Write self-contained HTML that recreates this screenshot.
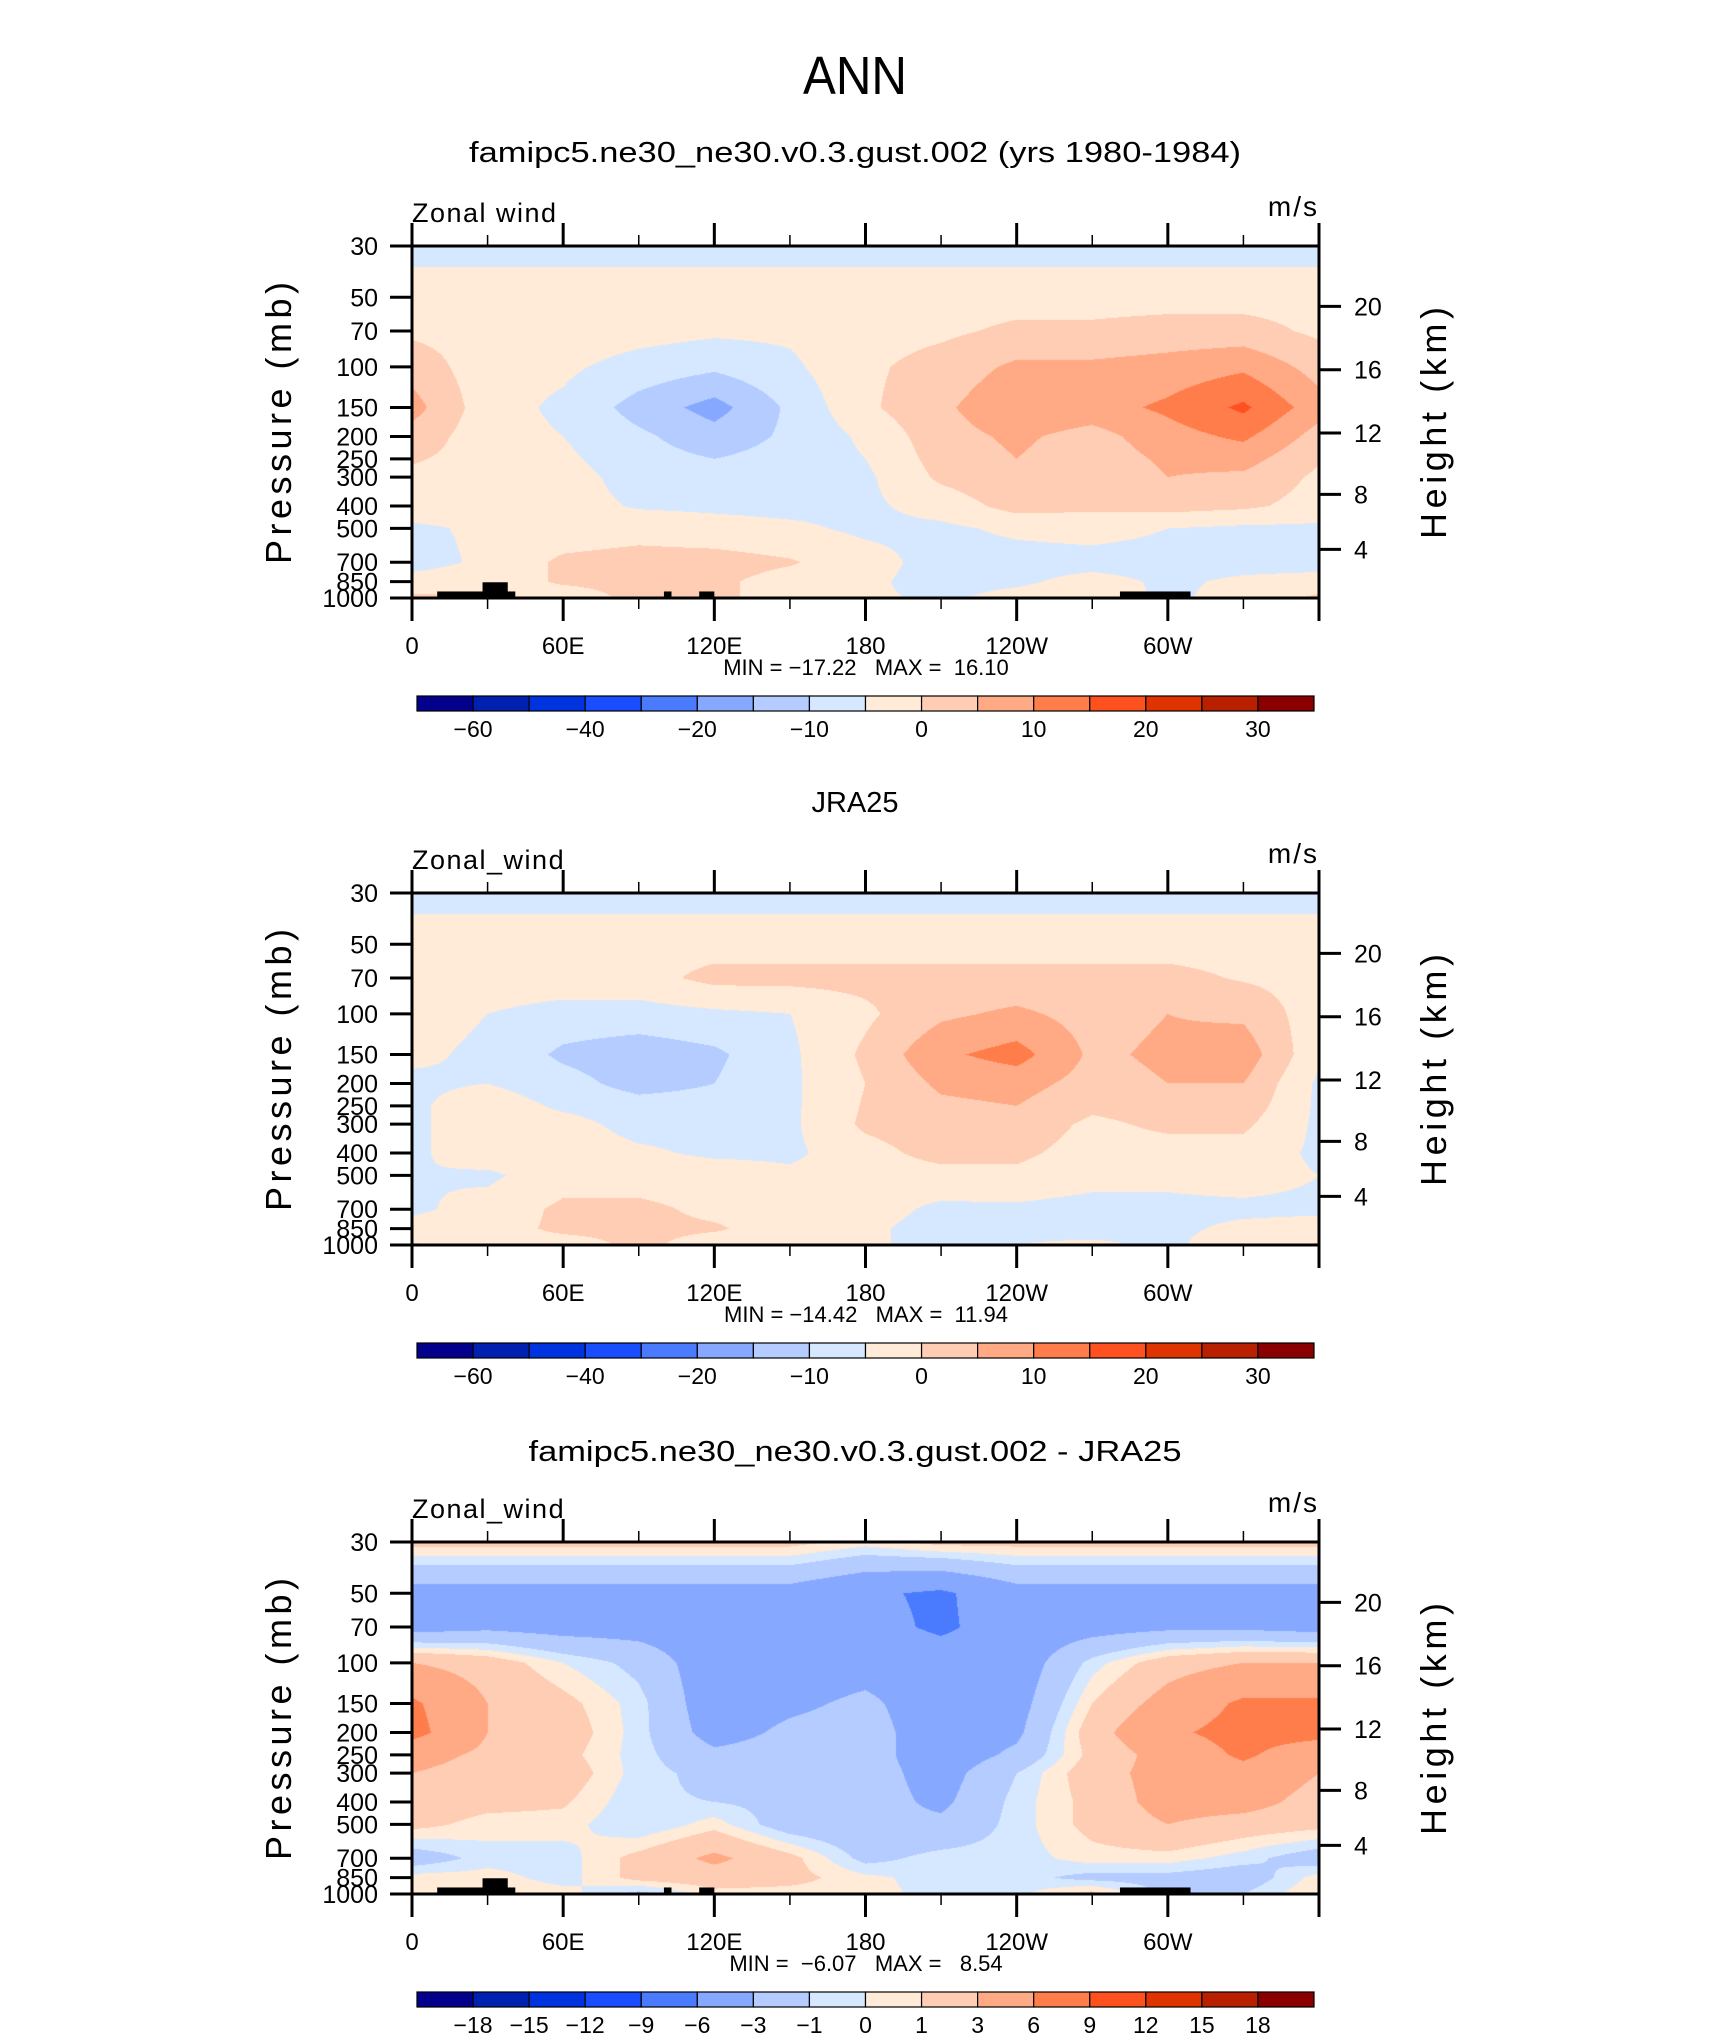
<!DOCTYPE html>
<html><head><meta charset="utf-8"><style>
html,body{margin:0;padding:0;background:#fff;}
#wrap{position:relative;width:1710px;height:2038px;overflow:hidden;background:#fff;}
canvas{position:absolute;}
svg{position:absolute;left:0;top:0;}
text{font-family:"Liberation Sans",sans-serif;fill:#000;}
</style></head><body>
<div id="wrap">
<canvas id="c0" width="907" height="352" style="left:412px;top:246px"></canvas>
<canvas id="c1" width="907" height="352" style="left:412px;top:893px"></canvas>
<canvas id="c2" width="907" height="352" style="left:412px;top:1542px"></canvas>
<svg id="svg" width="1710" height="2038">
<text x="855" y="94" font-size="54" font-weight="100" text-anchor="middle" textLength="104" lengthAdjust="spacingAndGlyphs">ANN</text>
</svg>
</div>
<script>
// ---- data ----
const lons = [0,30,60,90,120,150,180,210,240,270,300,330];
const levels = [30,50,70,100,150,200,250,300,400,500,700,850,1000];
const field1 = [
[-7,-7,-7,-7,-7,-7,-7,-7,-7,-7,-7,-7],
[-2,-2,-2,-2,-2,-2,-2,-2,-2,-2,-2,-2],
[-1,-2,-2,-3,-4,-4,-2,-1,1,1,2,2],
[3,-3,-4,-7,-9,-6,-1,2,6,6,7,9],
[7,-3,-6,-12,-17,-9,-1,4,9,8,11,16],
[3,-3,-5,-9,-13,-9,-4,3,6,3,8,11],
[0.5,-2,-4,-8,-10,-8,-5,2,5,2,6,7],
[-1,-2,-3,-7,-8,-7,-6,1,4,1,5,4],
[-2,-3,-3,-5.5,-6,-6.5,-6,-3,2,1,2,1],
[-6,-4,-3,-2,-3,-4,-6,-6,-4,-3,-5,-6],
[-7,-4,1,2,2,0.5,-3,-7,-7,-7,-7,-7],
[-3,-2,0.5,1,1,-2,-4,-7,-6,-3,-6,-4],
[1,0.5,-2,1,1,-2,-4,-6,-3,-2,-6,-3]];
const field2 = [
[-7,-7,-7,-7,-7,-7,-7,-7,-7,-7,-7,-7],
[-2,-2,-2,-2,-2,-2,-2,-2,-2,-2,-2,-2],
[-2,-2,-2,-2,1.5,1.5,1.5,1.5,1.5,1.5,1.5,-0.5],
[-3,-5,-7,-7,-6,-5,-1,4,6,3,5,4],
[-4,-6,-11,-13,-11,-6,1,9,12,4,6,8],
[-6,-5,-8,-12,-10,-6,0,6,7,3,5,5],
[-6,-2,-6,-8,-8,-6,0.5,4,5,1,2,3],
[-6,-2,-3,-7,-7,-6,1,3,3,-1,1,1],
[-6,-2,-2,-4,-6,-6,-2,2,1,-2,-2,-2],
[-5,-6,-2,-2,-2,-4,-3,-2,-1,-3,-4,-3],
[-6,-3,1,1,-1,-2,-3,-6,-6,-7,-6,-6],
[-3,-2,1,1,0.5,-2,-4,-7,-6,-7,-6,-4],
[0.5,-2,-2,1,-2,-3,-4,-7,-5,-4,-6,-2]];
const field3 = [
[1.5,1.5,1.5,1.5,1.5,1.5,0.5,1.5,1.5,1.5,1.5,1.5],
[-4,-4,-4,-4,-4,-4,-5.5,-6.5,-4,-4,-4,-4],
[-4,-3.5,-4,-4,-4.5,-4.5,-5,-6.5,-4.5,-4,-3.5,-3.5],
[3,2,0,-1.5,-4.5,-4.5,-4,-4.5,-4.5,-0.5,2,3],
[6.5,3,1.5,-0.5,-4.5,-3.5,-2.5,-4.5,-4,1,4,6.5],
[7,3,2,-0.5,-4,-2.5,-2,-4.5,-3.5,2,5.5,7],
[4,2.5,1.5,-0.5,-2.5,-2,-2,-4.5,-2.5,1.5,4,6.5],
[3,2,2,-0.5,-1.5,-2,-2,-4,-1,2,4,5],
[2,1.5,1.2,-0.8,-1,-1.5,-2,-3.5,-0.5,1.5,4,4],
[1.5,0.5,0.5,-1,0.5,-2,-2.5,-2.5,-0.5,1.5,3,2],
[-2,-0.5,-0.5,1.5,3.5,1.5,-1.5,-0.5,-0.5,0.5,0.5,-0.5],
[0.5,0.5,-0.5,1.5,2,1.5,0.3,-0.5,-0.5,-1.5,-1.5,-2],
[1,1,0.5,-1.5,0.5,0.5,0.5,-0.5,-0.3,1.5,-1.5,-1]];
const levelsAB = [-60,-50,-40,-30,-20,-15,-10,-5,0,5,10,15,20,25,30];
const levelsDiff = [-18,-15,-12,-9,-6,-3,-1,0,1,3,6,9,12,15,18];
const cbLabelsAB = ["-60","","-40","","-20","","-10","","0","","10","","20","","30"];
const cbLabelsDiff = ["-18","-15","-12","-9","-6","-3","-1","0","1","3","6","9","12","15","18"];
const pressureTicks = [30,50,70,100,150,200,250,300,400,500,700,850,1000];
const heightTicks = [4,8,12,16,20];
const lonTicks = [0,30,60,90,120,150,180,210,240,270,300,330,360];
const lonLabels = {0:"0",60:"60E",120:"120E",180:"180",240:"120W",300:"60W"};
const landLon0 = [10,28,100,114,281];
const landLon1 = [41,38,103,120,309];
const landTop = [937,855,937,937,937];
const titles = ["famipc5.ne30_ne30.v0.3.gust.002 (yrs 1980-1984)","JRA25","famipc5.ne30_ne30.v0.3.gust.002 - JRA25"];
const varNames = ["Zonal wind","Zonal_wind","Zonal_wind"];
const minVals = ["-17.22","-14.42","-6.07"];
const maxVals = ["16.10","11.94","8.54"];
const palette = ["#03008C","#0020B0","#0033E0","#1A4DFF","#4A7BFF","#86A9FF","#B4CCFF","#D6E8FF","#FFEBD7","#FFCDB4","#FFAA85","#FF7D4B","#FF5020","#E03400","#B82000","#8A0000"];

// ---- geometry ----
const X0=412, X1=1319, PT=246, PH=352, offs=[0,647,1296];
function xOf(lon){return X0+(lon/360)*(X1-X0);}
function fracOfP(p){return Math.log(p/30)/Math.log(1000/30);}
function yOf(p,off){return PT+off+fracOfP(p)*PH;}
function pOfH(km){const z=km*1000; if(z<=11000) return 1013.25*Math.pow(1-2.25577e-5*z,5.25588); return 226.32*Math.exp(-(z-11000)/6341.6);}
const svg=document.getElementById('svg');
const NS='http://www.w3.org/2000/svg';
function mk(tag,attrs,parent){const e=document.createElementNS(NS,tag);for(const k in attrs)e.setAttribute(k,attrs[k]);(parent||svg).appendChild(e);return e;}

function colorIndex(v,lv){let i=0;while(i<lv.length&&v>=lv[i])i++;return i;}
function hex(h){return [parseInt(h.substr(1,2),16),parseInt(h.substr(3,2),16),parseInt(h.substr(5,2),16)];}
const pal=palette.map(hex);

function drawField(cid,field,lv){
  const c=document.getElementById(cid),ctx=c.getContext('2d');
  const W=c.width,H=c.height,img=ctx.createImageData(W,H);
  const lf=levels.map(fracOfP);
  for(let py=0;py<H;py++){
    const f=(py+0.5)/H;
    let j=0;while(j<levels.length-2&&f>lf[j+1])j++;
    const t=Math.min(1,Math.max(0,(f-lf[j])/(lf[j+1]-lf[j])));
    for(let px=0;px<W;px++){
      const lon=(px+0.5)/W*360;
      const fi=lon/30;let i=Math.floor(fi);const s=fi-i;i=i%12;const i2=(i+1)%12;
      const a=field[j][i]*(1-s)+field[j][i2]*s;
      const b=field[j+1][i]*(1-s)+field[j+1][i2]*s;
      const v=a*(1-t)+b*t;
      const col=pal[colorIndex(v,lv)];
      const k=(py*W+px)*4;img.data[k]=col[0];img.data[k+1]=col[1];img.data[k+2]=col[2];img.data[k+3]=255;
    }
  }
  ctx.putImageData(img,0,0);
}
drawField('c0',field1,levelsAB);
drawField('c1',field2,levelsAB);
drawField('c2',field3,levelsDiff);

for(let n=0;n<3;n++){
  const off=offs[n];
  const g=mk('g',{});
  
  
  const tt=mk('text',{x:855,y:162+off+(n==0?0:3),'font-size':29,'text-anchor':'middle'},g);
  
  
  tt.textContent=titles[n];
  if(n==0){tt.setAttribute('textLength','772');tt.setAttribute('lengthAdjust','spacingAndGlyphs');}
  if(n==2){tt.setAttribute('textLength','653');tt.setAttribute('lengthAdjust','spacingAndGlyphs');}
  if(n!=1){
    for(let k=0;k<landLon0.length;k++){
      const r=mk('rect',{x:xOf(landLon0[k]),y:yOf(landTop[k],off),width:xOf(landLon1[k])-xOf(landLon0[k]),height:yOf(1000,off)-yOf(landTop[k],off),fill:'#000'},g);
      
      
    }
  }
  const fr=mk('rect',{x:X0,y:PT+off,width:X1-X0,height:PH,fill:'none',stroke:'#000','stroke-width':3},g);
  
  
  const vn=mk('text',{x:X0,y:PT+off-24,'font-size':27,'font-weight':100,'letter-spacing':'1.5'},g);
  
  
  vn.textContent=varNames[n];
  const un=mk('text',{x:X1,y:PT+off-30,'font-size':28,'text-anchor':'end','letter-spacing':'2'},g);
  
  
  un.textContent='m/s';
  lonTicks.forEach(L=>{
    const major=(L%60===0), x=xOf(L), len=major?23:11;
    const t1=mk('line',{x1:x,y1:PT+off,x2:x,y2:PT+off-len,stroke:'#000','stroke-width':major?3:1.5},g);
    
    
    const t2=mk('line',{x1:x,y1:PT+off+PH,x2:x,y2:PT+off+PH+len,stroke:'#000','stroke-width':major?3:1.5},g);
    
    
    if(lonLabels[L]!==undefined){
      const lt=mk('text',{x:x,y:PT+off+PH+56,'font-size':24,'text-anchor':'middle'},g);
      
      
      lt.textContent=lonLabels[L];
    }
  });
  pressureTicks.forEach(p=>{
    const y=yOf(p,off);
    const t=mk('line',{x1:X0-22,y1:y,x2:X0,y2:y,stroke:'#000','stroke-width':3},g);
    
    
    const lt=mk('text',{x:X0-34,y:y+9,'font-size':25,'text-anchor':'end'},g);
    
    
    lt.textContent=String(p);
  });
  heightTicks.forEach(h=>{
    const y=yOf(pOfH(h),off);
    const t=mk('line',{x1:X1,y1:y,x2:X1+22,y2:y,stroke:'#000','stroke-width':3},g);
    
    
    const lt=mk('text',{x:X1+35,y:y+9,'font-size':25},g);
    
    
    lt.textContent=String(h);
  });
  const yt=mk('text',{x:0,y:0,'font-size':36,'font-weight':100,'text-anchor':'middle',textLength:282,lengthAdjust:'spacing',transform:'translate(291,'+(423+off)+') rotate(-90)'},g);
  
  
  yt.textContent='Pressure  (mb)';
  const ht=mk('text',{x:0,y:0,'font-size':36,'font-weight':100,'text-anchor':'middle',textLength:232,lengthAdjust:'spacing',transform:'translate(1446,'+(423+off)+') rotate(-90)'},g);
  
  
  ht.textContent='Height  (km)';
  const mm=mk('text',{x:866,y:PT+off+PH+77,'font-size':22,'text-anchor':'middle',style:'white-space:pre'},g);
  
  
  mm.textContent='MIN = '+(n==2?' ':'')+minVals[n].replace('-','\u2212')+'   MAX =  '+(n==2?' ':'')+maxVals[n];
  const cb=mk('g',{},g);
  
  
  const CX0=417,CX1=1314,CY=PT+off+PH+98,CH=15,bw=(CX1-CX0)/16;
  palette.forEach((col,k)=>{
    const r=mk('rect',{x:CX0+k*bw,y:CY,width:bw,height:CH,fill:col,stroke:'#000','stroke-width':1.2},cb);
    
    
  });
  const labs=(n==2)?cbLabelsDiff:cbLabelsAB;
  labs.forEach((s,k)=>{
    if(!s)return;
    const lt=mk('text',{x:CX0+(k+1)*bw,y:CY+CH+26,'font-size':23,'text-anchor':'middle'},cb);
    
    
    lt.textContent=s.replace('-','\u2212');
  });
}
</script>
</body></html>
